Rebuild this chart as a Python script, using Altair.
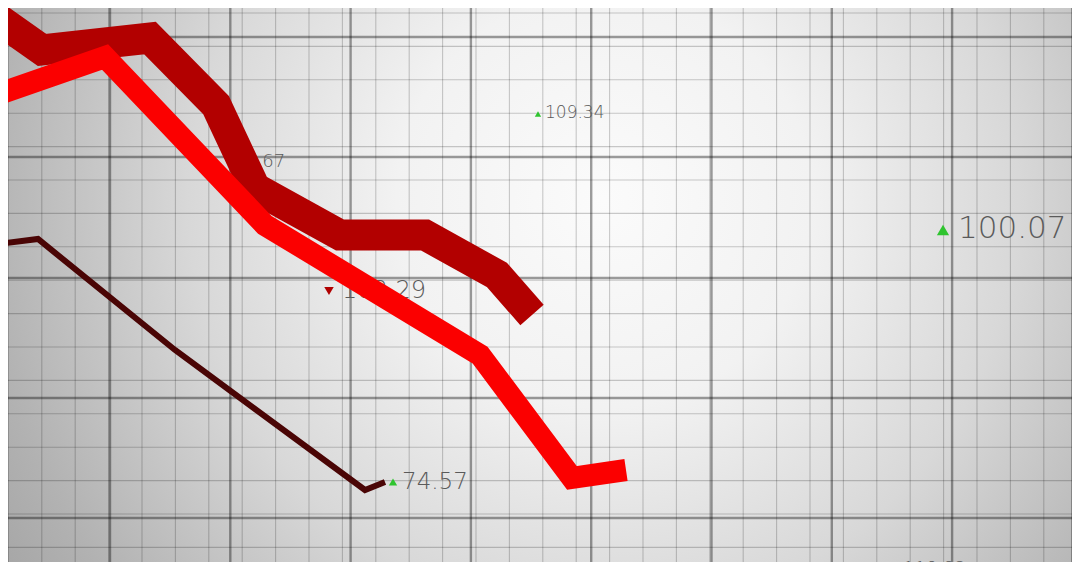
import altair as alt
import pandas as pd
import numpy as np

# ---- data (x = time step, y = level) ----
dark_x = [-2.0, 4.2, 15.0, 21.6, 25.5, 34.0, 42.5, 49.7, 53.2]
dark_y = [56.4, 52.0, 53.2, 46.5, 38.2, 33.5, 33.5, 29.5, 25.5]

bright_x = [-1.0, 10.5, 26.5, 48.0, 57.2, 62.6]
bright_y = [47.3, 51.3, 34.5, 21.5, 9.2, 10.0]

maroon_x = [-1.0, 3.8, 17.5, 36.5, 38.5]
maroon_y = [32.5, 33.1, 22.0, 8.0, 8.8]

label_text = ["109.34", "8.67", "103.29", "100.07", "74.57", "110.82"]
label_x = [54.5, 24.5, 34.2, 95.8, 40.2, 90.3]
label_y = [45.7, 40.8, 27.9, 34.1, 8.8, 0.1]
label_size = [17, 18, 24, 31, 23, 18]

tri_x = [53.8, 94.3, 39.3, 32.9]
tri_y = [45.6, 34.0, 8.8, 27.9]
tri_shape = ["triangle-up", "triangle-up", "triangle-up", "triangle-down"]
tri_color = ["#2fc42f", "#2fc42f", "#2fc42f", "#b00000"]
tri_size = [40, 150, 70, 90]

# grid
minor_x = list(np.round(0.84 + 3.34 * np.arange(33), 3))
minor_y = list(np.round(57 - (1.3 + 3.34 * np.arange(18)), 3))
major_x = list(np.round(-1.03 + 12.03 * np.arange(10), 3))
major_y = [53.3, 41.3, 29.2, 17.2, 5.2]

W, H = 1064, 554
xs = alt.Scale(domain=[0.8, 107.2], nice=False, zero=False)
ys = alt.Scale(domain=[0.8, 56.2], nice=False, zero=False)

grad = {
    "gradient": "radial",
    "x1": 0.56, "y1": 0.42, "r1": 0,
    "x2": 0.56, "y2": 0.42, "r2": 0.78,
    "stops": [
        {"offset": 0, "color": "#fbfbfb"},
        {"offset": 0.25, "color": "#f2f2f2"},
        {"offset": 0.5, "color": "#d8d8d8"},
        {"offset": 0.75, "color": "#b2b2b2"},
        {"offset": 1, "color": "#949494"},
    ],
}

bg = alt.Chart(pd.DataFrame({"x": [0.8], "x2": [107.2], "y": [0.8], "y2": [56.2]})).mark_rect(
    fill=grad, strokeWidth=0
).encode(
    x=alt.X("x:Q", scale=xs, axis=None), x2="x2:Q",
    y=alt.Y("y:Q", scale=ys, axis=None), y2="y2:Q",
)

def vrules(vals, width, op):
    return alt.Chart(pd.DataFrame({"g": vals})).mark_rule(
        color="black", strokeWidth=width, opacity=op, clip=True
    ).encode(x=alt.X("g:Q", scale=xs, axis=None))

def hrules(vals, width, op):
    return alt.Chart(pd.DataFrame({"g": vals})).mark_rule(
        color="black", strokeWidth=width, opacity=op, clip=True
    ).encode(y=alt.Y("g:Q", scale=ys, axis=None))

def line(xv, yv, color, width):
    df = pd.DataFrame({"x": xv, "y": yv, "i": range(len(xv))})
    return alt.Chart(df).mark_line(
        color=color, strokeWidth=width, strokeJoin="miter", strokeCap="butt", clip=True
    ).encode(
        x=alt.X("x:Q", scale=xs, axis=None),
        y=alt.Y("y:Q", scale=ys, axis=None),
        order="i:O",
    )

labels = alt.Chart(pd.DataFrame({"t": label_text, "x": label_x, "y": label_y, "s": label_size})).mark_text(
    align="left", baseline="middle", font="DejaVu Sans", fontWeight=200, color="#5a5a5a", clip=True
).encode(
    x=alt.X("x:Q", scale=xs, axis=None),
    y=alt.Y("y:Q", scale=ys, axis=None),
    text="t:N",
    size=alt.Size("s:Q", scale=None, legend=None),
)

tris = alt.Chart(pd.DataFrame({"x": tri_x, "y": tri_y, "sh": tri_shape, "c": tri_color, "s": tri_size})).mark_point(
    filled=True, opacity=1, strokeWidth=0, clip=True
).encode(
    x=alt.X("x:Q", scale=xs, axis=None),
    y=alt.Y("y:Q", scale=ys, axis=None),
    shape=alt.Shape("sh:N", scale=None, legend=None),
    color=alt.Color("c:N", scale=None, legend=None),
    size=alt.Size("s:Q", scale=None, legend=None),
)

chart = alt.layer(
    bg,
    vrules(minor_x, 1.1, 0.2),
    hrules(minor_y, 1.1, 0.2),
    vrules(major_x, 2.4, 0.38),
    hrules(major_y, 2.4, 0.38),
    labels,
    tris,
    line(maroon_x, maroon_y, "#4a0505", 6),
    line(dark_x, dark_y, "#b20000", 31),
    line(bright_x, bright_y, "#fb0000", 22),
).properties(
    width=W, height=H, padding=0, autosize="none"
).configure_view(stroke=None)

chart.save("out.html", embed_options={"renderer": "svg", "actions": False})
